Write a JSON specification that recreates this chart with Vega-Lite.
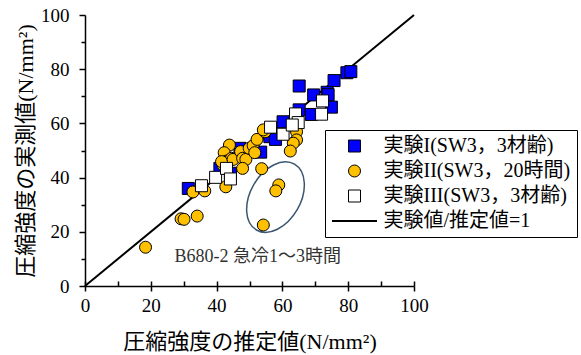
{
  "$schema": "https://vega.github.io/schema/vega-lite/v6.json",
  "width": 329,
  "height": 271,
  "autosize": "none",
  "padding": {"left": 85, "top": 15, "right": 167, "bottom": 69},
  "background": "white",
  "config": {
    "view": {"stroke": null},
    "font": "Liberation Serif, Noto Sans CJK JP",
    "axis": {
      "grid": false,
      "domainColor": "black",
      "domainWidth": 1.5,
      "tickColor": "black",
      "tickWidth": 1.5,
      "labelFlush": false,
      "labelColor": "black",
      "labelFont": "Liberation Serif",
      "titleFont": "Liberation Serif, Noto Sans CJK JP",
      "titleFontWeight": "normal",
      "titleColor": "black"
    }
  },
  "datasets": {
    "pts": [
      {"s": "実験I(SW3，3材齢)", "x": 31.4, "y": 36.0},
      {"s": "実験I(SW3，3材齢)", "x": 41.0, "y": 43.4},
      {"s": "実験I(SW3，3材齢)", "x": 44.2, "y": 41.6},
      {"s": "実験I(SW3，3材齢)", "x": 47.1, "y": 50.8},
      {"s": "実験I(SW3，3材齢)", "x": 53.4, "y": 49.4},
      {"s": "実験I(SW3，3材齢)", "x": 56.2, "y": 55.1},
      {"s": "実験I(SW3，3材齢)", "x": 57.9, "y": 54.1},
      {"s": "実験I(SW3，3材齢)", "x": 60.2, "y": 60.6},
      {"s": "実験I(SW3，3材齢)", "x": 65.1, "y": 65.0},
      {"s": "実験I(SW3，3材齢)", "x": 65.1, "y": 73.8},
      {"s": "実験I(SW3，3材齢)", "x": 68.8, "y": 63.3},
      {"s": "実験I(SW3，3材齢)", "x": 69.5, "y": 70.5},
      {"s": "実験I(SW3，3材齢)", "x": 73.6, "y": 71.5},
      {"s": "実験I(SW3，3材齢)", "x": 73.9, "y": 70.6},
      {"s": "実験I(SW3，3材齢)", "x": 75.7, "y": 75.8},
      {"s": "実験I(SW3，3材齢)", "x": 74.9, "y": 66.0},
      {"s": "実験I(SW3，3材齢)", "x": 79.6, "y": 78.7},
      {"s": "実験I(SW3，3材齢)", "x": 80.8, "y": 79.1},
      {"s": "実験II(SW3，20時間)", "x": 18.4, "y": 14.3},
      {"s": "実験II(SW3，20時間)", "x": 29.2, "y": 24.8},
      {"s": "実験II(SW3，20時間)", "x": 30.1, "y": 24.6},
      {"s": "実験II(SW3，20時間)", "x": 34.1, "y": 25.8},
      {"s": "実験II(SW3，20時間)", "x": 32.8, "y": 34.7},
      {"s": "実験II(SW3，20時間)", "x": 36.4, "y": 35.1},
      {"s": "実験II(SW3，20時間)", "x": 42.8, "y": 36.6},
      {"s": "実験II(SW3，20時間)", "x": 43.9, "y": 52.0},
      {"s": "実験II(SW3，20時間)", "x": 42.3, "y": 49.2},
      {"s": "実験II(SW3，20時間)", "x": 43.0, "y": 46.1},
      {"s": "実験II(SW3，20時間)", "x": 44.5, "y": 47.1},
      {"s": "実験II(SW3，20時間)", "x": 42.0, "y": 44.6},
      {"s": "実験II(SW3，20時間)", "x": 41.5, "y": 45.9},
      {"s": "実験II(SW3，20時間)", "x": 45.0, "y": 46.7},
      {"s": "実験II(SW3，20時間)", "x": 47.3, "y": 49.6},
      {"s": "実験II(SW3，20時間)", "x": 47.9, "y": 47.1},
      {"s": "実験II(SW3，20時間)", "x": 48.9, "y": 46.7},
      {"s": "実験II(SW3，20時間)", "x": 47.9, "y": 43.4},
      {"s": "実験II(SW3，20時間)", "x": 49.9, "y": 50.8},
      {"s": "実験II(SW3，20時間)", "x": 51.1, "y": 51.8},
      {"s": "実験II(SW3，20時間)", "x": 51.6, "y": 49.2},
      {"s": "実験II(SW3，20時間)", "x": 52.3, "y": 54.1},
      {"s": "実験II(SW3，20時間)", "x": 53.7, "y": 43.3},
      {"s": "実験II(SW3，20時間)", "x": 54.7, "y": 56.9},
      {"s": "実験II(SW3，20時間)", "x": 54.2, "y": 57.6},
      {"s": "実験II(SW3，20時間)", "x": 64.3, "y": 56.9},
      {"s": "実験II(SW3，20時間)", "x": 64.3, "y": 53.9},
      {"s": "実験II(SW3，20時間)", "x": 63.3, "y": 52.7},
      {"s": "実験II(SW3，20時間)", "x": 62.4, "y": 49.8},
      {"s": "実験II(SW3，20時間)", "x": 58.9, "y": 37.3},
      {"s": "実験II(SW3，20時間)", "x": 58.0, "y": 35.1},
      {"s": "実験II(SW3，20時間)", "x": 54.2, "y": 22.5},
      {"s": "実験III(SW3，3材齢)", "x": 35.4, "y": 37.0},
      {"s": "実験III(SW3，3材齢)", "x": 39.7, "y": 40.1},
      {"s": "実験III(SW3，3材齢)", "x": 43.0, "y": 43.4},
      {"s": "実験III(SW3，3材齢)", "x": 44.2, "y": 39.5},
      {"s": "実験III(SW3，3材齢)", "x": 56.4, "y": 58.6},
      {"s": "実験III(SW3，3材齢)", "x": 60.2, "y": 56.0},
      {"s": "実験III(SW3，3材齢)", "x": 64.0, "y": 63.5},
      {"s": "実験III(SW3，3材齢)", "x": 64.8, "y": 60.3},
      {"s": "実験III(SW3，3材齢)", "x": 63.0, "y": 59.4},
      {"s": "実験III(SW3，3材齢)", "x": 72.2, "y": 68.3},
      {"s": "実験III(SW3，3材齢)", "x": 71.9, "y": 63.4}
    ],
    "line": [{"x": 0, "y": 0}, {"x": 100, "y": 100}],
    "ell": [{"x": 57.9, "y": 32.8}],
    "note": [{"x": 52.5, "y": 10.7, "t": "B680-2 急冷1～3時間"}]
  },
  "resolve": {"axis": {"x": "independent", "y": "independent"}},
  "layer": [
    {
      "data": {"name": "line"},
      "mark": {"type": "line", "color": "black", "strokeWidth": 2},
      "encoding": {
        "x": {"field": "x", "type": "quantitative", "scale": {"domain": [0, 100], "nice": false},
          "axis": {"orient": "bottom", "values": [0,10,20,30,40,50,60,70,80,90,100], "tickSize": -5, "labels": false, "domain": false, "title": null}},
        "y": {"field": "y", "type": "quantitative", "scale": {"domain": [0, 100], "nice": false}, "axis": null}
      }
    },
    {
      "data": {"name": "ell"},
      "mark": {"type": "point", "shape": "M0,-1 A0.66,1 0 1,1 0,1 A0.66,1 0 1,1 0,-1 Z", "filled": false, "stroke": "#3b5670", "strokeWidth": 1.5, "size": 5776, "angle": 30, "opacity": 1},
      "encoding": {
        "x": {"field": "x", "type": "quantitative", "axis": null},
        "y": {"field": "y", "type": "quantitative",
          "axis": {"orient": "left", "values": [10,30,50,70,90], "tickSize": 4, "labels": false, "domain": false, "title": null}}
      }
    },
    {
      "data": {"name": "note"},
      "mark": {"type": "text", "fontSize": 18, "color": "#333333", "font": "Liberation Serif, Noto Sans CJK JP"},
      "encoding": {
        "x": {"field": "x", "type": "quantitative", "axis": null},
        "y": {"field": "y", "type": "quantitative", "axis": null},
        "text": {"field": "t"}
      }
    },
    {
      "data": {"name": "pts"},
      "mark": {"type": "point", "filled": true, "stroke": "black", "opacity": 1, "size": 144},
      "encoding": {
        "x": {"field": "x", "type": "quantitative",
          "axis": {"orient": "bottom", "values": [0,20,40,60,80,100], "tickSize": 5, "labelPadding": 5, "labelFont": "Liberation Serif", "labelFontSize": 19, "titleFont": "Liberation Serif, Noto Sans CJK JP", "titleFontSize": 22, "title": "圧縮強度の推定値(N/mm²)", "titlePadding": 16}},
        "y": {"field": "y", "type": "quantitative",
          "axis": {"orient": "left", "values": [0,20,40,60,80,100], "tickSize": 6, "labelPadding": 10, "labelFont": "Liberation Serif", "labelFontSize": 19, "titleFont": "Liberation Serif, Noto Sans CJK JP", "titleFontSize": 22, "title": "圧縮強度の実測値(N/mm²)", "titlePadding": 3}},
        "fill": {"field": "s", "type": "nominal",
          "scale": {"domain": ["実験I(SW3，3材齢)", "実験II(SW3，20時間)", "実験III(SW3，3材齢)", "実験値/推定値=1"], "range": ["#0000ff", "#ffc000", "#ffffff", "#000000"]},
          "legend": {"title": null, "orient": "none", "legendX": 240, "legendY": 115, "strokeColor": "black", "fillColor": "white", "padding": 6, "rowPadding": 5, "symbolSize": 144, "symbolOffset": 13.5, "labelOffset": 19, "labelLimit": 400, "labelFont": "Liberation Serif, Noto Sans CJK JP", "labelFontSize": 20, "labelColor": "black"}},
        "shape": {"field": "s", "type": "nominal",
          "scale": {"domain": ["実験I(SW3，3材齢)", "実験II(SW3，20時間)", "実験III(SW3，3材齢)", "実験値/推定値=1"], "range": ["square", "circle", "square", "M-3.75,0 L3.75,0"]},
          "legend": {"title": null, "orient": "none", "legendX": 240, "legendY": 115, "strokeColor": "black", "fillColor": "white", "padding": 6, "rowPadding": 5, "symbolSize": 144, "symbolOffset": 13.5, "labelOffset": 19, "labelLimit": 400, "labelFont": "Liberation Serif, Noto Sans CJK JP", "labelFontSize": 20, "labelColor": "black"}},
        "strokeWidth": {"field": "s", "type": "nominal",
          "scale": {"type": "ordinal", "domain": ["実験I(SW3，3材齢)", "実験II(SW3，20時間)", "実験III(SW3，3材齢)", "実験値/推定値=1"], "range": [1, 1, 1, 2]},
          "legend": {"title": null, "orient": "none", "legendX": 240, "legendY": 115, "strokeColor": "black", "fillColor": "white", "padding": 6, "rowPadding": 5, "symbolSize": 144, "symbolOffset": 13.5, "labelOffset": 19, "labelLimit": 400, "labelFont": "Liberation Serif, Noto Sans CJK JP", "labelFontSize": 20, "labelColor": "black"}}
      }
    }
  ]
}
